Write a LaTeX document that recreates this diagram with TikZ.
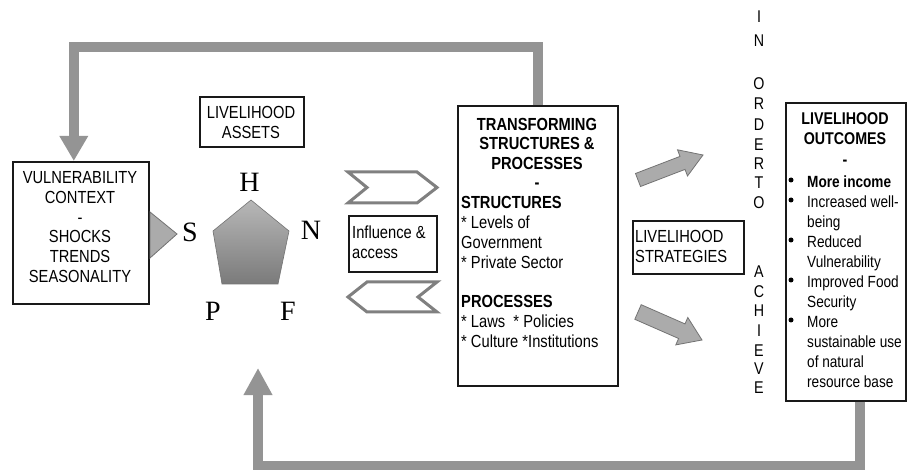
\documentclass[tikz,border=0pt]{standalone}
\usepackage{fontspec}
\setmainfont{Liberation Sans}[FakeStretch=0.84]
\newfontfamily\tms{Liberation Serif}
\usetikzlibrary{arrows.meta}
\begin{document}
\begin{tikzpicture}[x=1pt,y=-1pt,
 box/.style={draw=black!90, line width=1.6pt, inner sep=0pt, anchor=north west},
 txt/.style={inner sep=0pt, font=\fontsize{17.5}{19.8}\selectfont},
 band/.style={draw=black!42, line width=10pt},
 blk/.style={fill=black!33, draw=black!55, line width=0.8pt, line join=miter},
 chev/.style={draw=black!50, line width=3pt, line join=miter, fill=white},
 letter/.style={inner sep=0pt, font=\tms\fontsize{28}{28}\selectfont},
 vert/.style={inner sep=0pt, font=\fontsize{17}{17}\selectfont},
 bullet/.style={circle, fill=black, inner sep=0pt, minimum size=5pt}
]
\useasboundingbox[fill=white] (0,0) rectangle (908,470);

% boxes
\node[box, minimum width=136pt, minimum height=142pt] (vul) at (12,161) {};
\node[box, minimum width=104pt, minimum height=50pt] (assets) at (199,96) {};
\node[box, minimum width=88pt, minimum height=56pt] (infl) at (348,215) {};
\node[box, minimum width=160pt, minimum height=280pt] (ts) at (457,105) {};
\node[box, minimum width=111pt, minimum height=53pt] (strat) at (632,220) {};
\node[box, minimum width=120pt, minimum height=298pt] (out) at (785,102) {};

% texts
\node[txt, align=center] (vultxt) at (80,227) {VULNERABILITY\\CONTEXT\\-\\SHOCKS\\TRENDS\\SEASONALITY};
\node[txt, align=center] (assetstxt) at (251,122.5) {LIVELIHOOD\\ASSETS};
\node[txt, align=left, anchor=west] (infltxt) at (352,242) {Influence \&\\access};
\node[txt, align=center, font=\fontsize{17.5}{19.3}\selectfont\bfseries] (tshead) at (537,153.5) {TRANSFORMING\\STRUCTURES \&\\PROCESSES\\-};
\node[txt, align=left, anchor=west] (tsbody) at (461,272) {\textbf{STRUCTURES}\\* Levels of\\Government\\* Private Sector\\[19.8pt]\textbf{PROCESSES}\\* Laws\ \ * Policies\\* Culture *Institutions};
\node[txt, align=left, anchor=west] (strattxt) at (635,246.5) {LIVELIHOOD\\STRATEGIES};
\node[txt, align=center, font=\fontsize{17}{20.5}\selectfont\bfseries] (outhead) at (845,139) {LIVELIHOOD\\OUTCOMES\\-};
\node[txt, align=left, anchor=west, font=\fontsize{16.2}{20}\selectfont] (outbody) at (807,282) {\textbf{More income}\\Increased well-\\being\\Reduced\\Vulnerability\\Improved Food\\Security\\More\\sustainable use\\of natural\\resource base};
\foreach \yy [count=\i] in {180,200,240,280,320}
  \node[bullet] (b\i) at (791,\yy) {};

% vertical text
\foreach \l/\yy [count=\i] in {I/17,N/41,O/84,R/104,D/125,E/145,R/164,T/183,O/203,A/272,C/292,H/311,I/331,E/351,V/369,E/388}
  \node[vert] (v\i) at (759,\yy) {\l};

% asset pentagon
\shade[top color=black!28, bottom color=black!52, draw=black!55, line width=0.6pt] (251,200) -- (289,231) -- (278,284) -- (222,284) -- (213,231) -- cycle;
\node[letter] (H) at (249.5,182) {H};
\node[letter] (N) at (311,230) {N};
\node[letter] (S) at (190,232) {S};
\node[letter] (P) at (213,311) {P};
\node[letter] (F) at (288,311) {F};

% triangle from vulnerability
\path[blk] (150,212) -- (177,234) -- (150,258) -- cycle;

% chevrons
\draw[chev] (348,172) -- (417,172) -- (437,187.5) -- (417,203) -- (348,203) -- (367,187.5) -- cycle;
\draw[chev] (348,297) -- (367,282) -- (437,282) -- (418,297) -- (437,312) -- (367,312) -- cycle;

% block arrows
\path[blk] (635.5,173.5) -- (680,156.4) -- (677.5,149.8) -- (703,155) -- (687.5,176) -- (685,169.4) -- (640.5,186.5) -- cycle;
\path[blk] (641.2,304.7) -- (685,323.9) -- (687.8,317.5) -- (702,340) -- (675.8,344.9) -- (678.6,338.5) -- (634.8,319.3) -- cycle;

% feedback bands
\draw[band, -{Triangle[width=27pt,length=25pt]}] (ts.north) -- ++(0,-58) -| ([xshift=-7pt]vul.north);
\coordinate (fb) at (258,368);
\draw[band, -{Triangle[width=27pt,length=27pt]}] ([xshift=14pt]out.south) -- ++(0,64) -| (fb);
\end{tikzpicture}
\end{document}
